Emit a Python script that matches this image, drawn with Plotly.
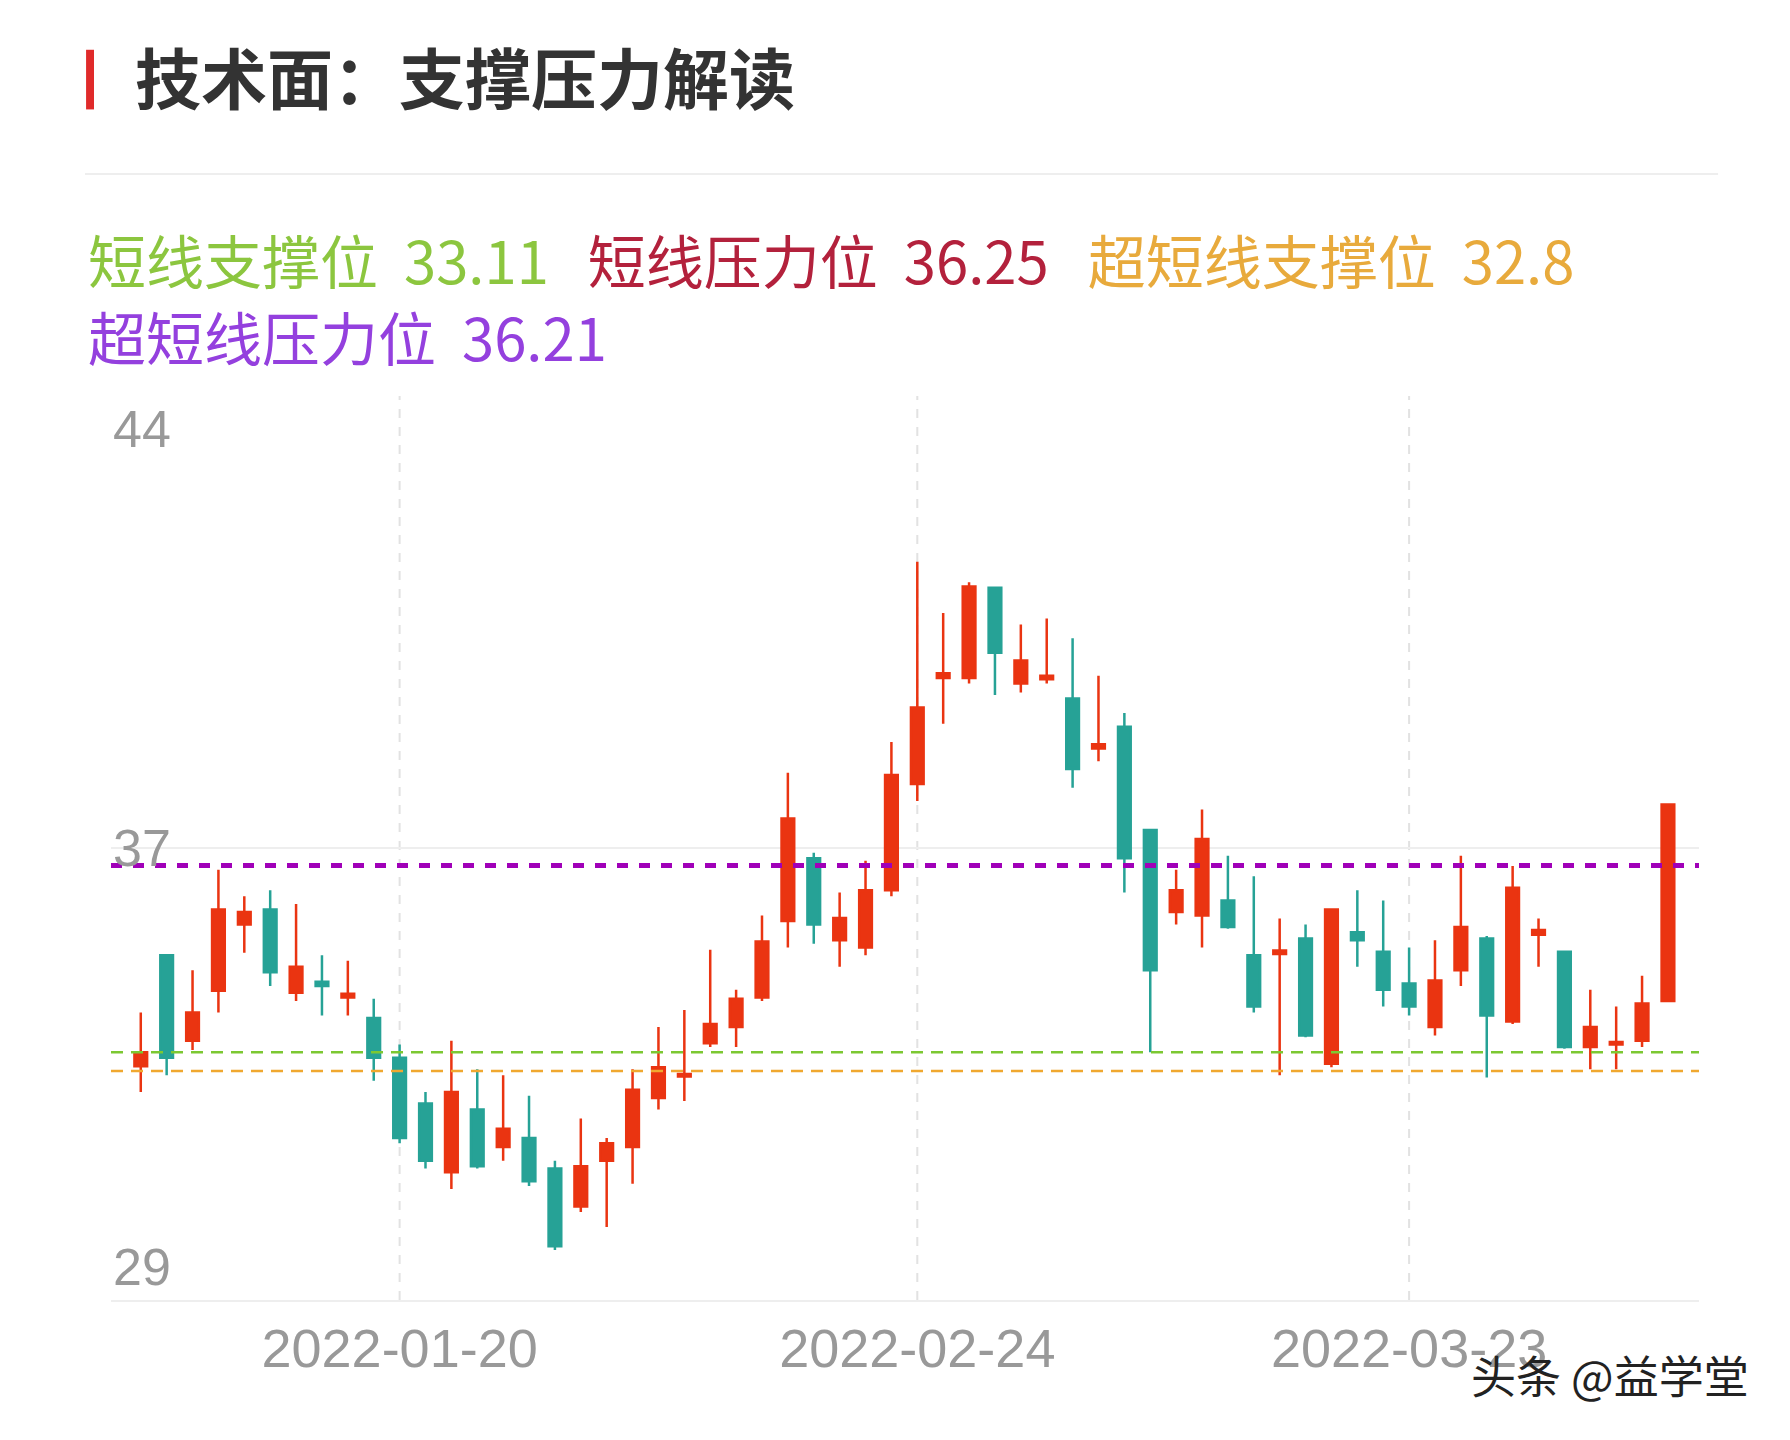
import plotly.graph_objects as go

dates = ["2022-01-06","2022-01-07","2022-01-10","2022-01-11","2022-01-12","2022-01-13","2022-01-14",
         "2022-01-17","2022-01-18","2022-01-19","2022-01-20","2022-01-21","2022-01-24","2022-01-25",
         "2022-01-26","2022-01-27","2022-01-28","2022-02-07","2022-02-08","2022-02-09","2022-02-10",
         "2022-02-11","2022-02-14","2022-02-15","2022-02-16","2022-02-17","2022-02-18","2022-02-21",
         "2022-02-22","2022-02-23","2022-02-24","2022-02-25","2022-02-28","2022-03-01","2022-03-02",
         "2022-03-03","2022-03-04","2022-03-07","2022-03-08","2022-03-09","2022-03-10","2022-03-11",
         "2022-03-14","2022-03-15","2022-03-16","2022-03-17","2022-03-18","2022-03-21","2022-03-22",
         "2022-03-23","2022-03-24","2022-03-25","2022-03-28","2022-03-29","2022-03-30","2022-03-31",
         "2022-04-01","2022-04-06","2022-04-07","2022-04-08"]
opens = [32.88,34.72,33.30,34.13,35.23,35.48,34.10,34.28,34.02,33.68,33.02,32.26,31.12,32.16,31.54,31.69,
         31.18,30.55,31.31,31.54,32.35,32.71,33.26,33.53,34.02,35.29,36.33,34.97,34.85,35.80,37.56,39.32,
         39.32,40.82,39.23,39.30,38.98,38.15,38.51,36.80,35.44,35.38,35.63,34.72,34.74,35.00,32.92,35.10,
         34.78,34.25,33.53,34.47,35.00,33.62,35.06,34.78,33.20,33.24,33.30,33.96]
closes = [33.11,33.02,33.77,35.48,35.44,34.44,34.53,34.21,34.08,33.02,31.69,31.31,32.45,31.22,31.84,30.97,
          29.89,31.22,31.60,32.49,32.86,32.75,33.58,34.00,34.95,36.99,35.23,35.34,35.80,37.71,38.83,39.40,
          40.84,39.74,39.61,39.36,37.81,38.22,36.33,34.47,35.80,36.65,35.19,33.87,34.80,33.39,35.48,34.97,
          34.15,33.87,34.30,35.19,33.72,35.84,35.14,33.20,33.53,33.28,33.92,37.22]
highs = [33.77,34.72,34.47,36.14,35.70,35.80,35.57,34.72,34.63,34.00,33.24,32.45,33.30,32.83,32.73,32.39,
         31.31,32.01,31.69,32.83,33.53,33.81,34.81,34.15,35.38,37.75,36.42,35.76,36.29,38.26,41.25,40.40,
         40.91,40.84,40.21,40.31,39.98,39.36,38.74,36.80,36.14,37.14,36.37,36.03,35.33,35.23,35.48,35.80,
         35.63,34.85,34.97,36.37,35.04,36.20,35.33,34.78,34.15,33.87,34.38,37.22]
lows = [32.45,32.73,33.15,33.77,34.76,34.21,33.96,33.72,33.72,32.64,31.60,31.18,30.84,31.18,31.31,30.89,
        29.83,30.46,30.21,30.93,32.16,32.30,33.20,33.20,33.96,34.85,34.91,34.53,34.72,35.70,37.28,38.56,
        39.23,39.04,39.08,39.23,37.50,37.94,35.76,33.11,35.23,34.85,35.16,33.77,32.73,33.36,32.86,34.53,
        33.87,33.72,33.39,34.21,32.69,33.58,34.53,33.17,32.83,32.83,33.20,33.96]

levels = {"短线支撑位": 33.11, "短线压力位": 36.25, "超短线支撑位": 32.8, "超短线压力位": 36.21}
level_colors = {"短线支撑位": "#8cc63f", "短线压力位": "#b3213c", "超短线支撑位": "#e8aa3c", "超短线压力位": "#9440de"}
line_colors = {"短线支撑位": "#7cc832", "超短线支撑位": "#f0a830", "超短线压力位": "#a000b8"}
y_ticks = [44, 36.5, 29]
y_tick_text = ["44", "37", "29"]
x_ticks = ["2022-01-20", "2022-02-24", "2022-03-23"]

UP, DOWN = "#ea3411", "#26a296"
fig = go.Figure()
fig.add_trace(go.Candlestick(
    x=dates, open=opens, high=highs, low=lows, close=closes,
    increasing=dict(line=dict(color=UP, width=2.5), fillcolor=UP),
    decreasing=dict(line=dict(color=DOWN, width=2.5), fillcolor=DOWN),
    whiskerwidth=0, showlegend=False, hoverinfo="skip"))

for name in ["短线支撑位", "超短线支撑位"]:
    fig.add_shape(type="line", xref="paper", x0=0, x1=1, y0=levels[name], y1=levels[name],
                  line=dict(color=line_colors[name], width=2.5, dash="12px,8px"))
fig.add_shape(type="line", xref="paper", x0=0, x1=1, y0=levels["超短线压力位"], y1=levels["超短线压力位"],
              line=dict(color=line_colors["超短线压力位"], width=5, dash="11px,11px"))

for d in x_ticks:
    fig.add_shape(type="line", x0=d, x1=d, yref="paper", y0=0, y1=1, layer="below",
                  line=dict(color="#e2e2e2", width=2, dash="dash"))

for v, t in zip(y_ticks, y_tick_text):
    yan = "top" if v == max(y_ticks) else ("bottom" if v == min(y_ticks) else "middle")
    fig.add_annotation(x=0, xref="paper", y=v, text=t, showarrow=False, xanchor="left", yanchor=yan,
                       font=dict(size=52, color="#999999", family="Liberation Sans"),
                       yshift=-2 if yan == "top" else (2 if yan == "bottom" else 0))

fig.update_layout(
    width=1790, height=1440, paper_bgcolor="white", plot_bgcolor="white",
    margin=dict(l=103, r=99, t=388, b=148),
    xaxis=dict(type="category", range=[-1.15, 60.2], rangeslider=dict(visible=False),
               tickmode="array", tickvals=x_ticks, ticktext=x_ticks, showgrid=False,
               tickfont=dict(size=54, color="#999999", family="Liberation Sans"), ticks="",
               showline=True, linecolor="#eeeeee", linewidth=2),
    yaxis=dict(range=[29, 44], tickmode="array", tickvals=y_ticks, showticklabels=False,
               gridcolor="#eeeeee", gridwidth=2, zeroline=False, ticks=""),
    font=dict(family="Noto Sans CJK SC"),
)

fig.add_shape(type="rect", xref="paper", yref="paper", x0=-0.0157, x1=-0.0107, y0=1.317, y1=1.383,
              fillcolor="#e02a2a", line=dict(width=0))
fig.add_annotation(xref="paper", yref="paper", x=0.0138, y=1.355, xanchor="left", yanchor="middle",
                   text="<b>技术面：支撑压力解读</b>", showarrow=False,
                   font=dict(size=66, color="#333333", family="Noto Sans CJK SC"))
fig.add_shape(type="line", xref="paper", yref="paper", x0=-0.0164, x1=1.012, y0=1.2456, y1=1.2456,
              line=dict(color="#eeeeee", width=2))

def item(n):
    c = level_colors[n]
    return f"<span style='color:{c}'>{n}&nbsp;&nbsp;{levels[n]:g}</span>"
line1 = "&nbsp;&nbsp;&nbsp;".join(item(n) for n in ["短线支撑位", "短线压力位", "超短线支撑位"])
line2 = item("超短线压力位")
fig.add_annotation(xref="paper", yref="paper", x=-0.0157, y=1.1515, xanchor="left", yanchor="middle",
                   text=line1, showarrow=False, font=dict(size=58, family="Noto Sans CJK SC"))
fig.add_annotation(xref="paper", yref="paper", x=-0.0157, y=1.1515, xanchor="left", yanchor="middle",
                   text=line2, showarrow=False, font=dict(size=58, family="Noto Sans CJK SC"), yshift=-77)
fig.add_annotation(xref="paper", yref="paper", x=1.033, y=-0.082, xanchor="right", yanchor="middle",
                   text="头条 @益学堂", showarrow=False, font=dict(size=45, color="#222222", family="Noto Sans CJK SC"))

fig.write_html("out.html")
